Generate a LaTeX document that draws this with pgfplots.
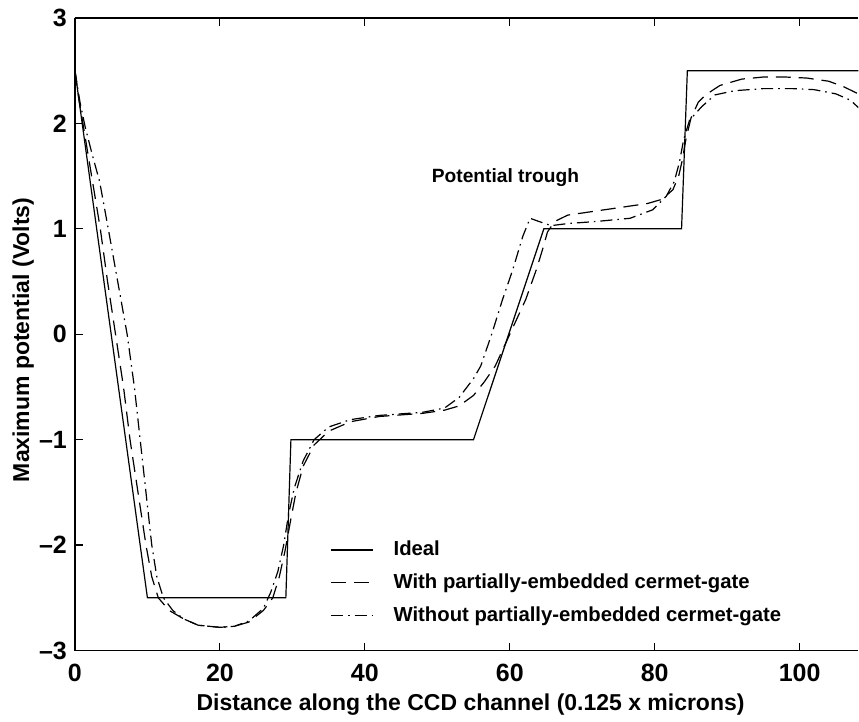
\documentclass[border=0pt]{standalone}
\usepackage{fontspec}
\setmainfont{Liberation Sans}
\usepackage{pgfplots}
\pgfplotsset{compat=1.18}
\begin{document}
\begin{tikzpicture}[font=\bfseries]
\begin{axis}[
    scale only axis,
    width=392pt, height=316.5pt,
    xmin=0, xmax=108.1, ymin=-3, ymax=3,
    axis x line*=box, axis y line*=left,
    xtick={0,20,40,60,80,100},
    ytick={-3,-2,-1,0,1,2,3},
    yticklabels={–3,–2,–1,0,1,2,3},
    xticklabel={\pgfmathprintnumber[assume math mode=true]{\tick}},
    tick label style={font=\fontsize{12.5}{14}\bfseries},
    xticklabel style={yshift=-3pt},
    yticklabel style={xshift=-0.5pt},
    major tick length=4pt,
    tick style={line width=0.6pt, black},
    axis line style={line width=0.6pt},
    xlabel={Distance along the CCD channel (0.125 x microns)},
    ylabel={Maximum potential (Volts)},
    label style={font=\fontsize{11.5}{13}\bfseries},
    xlabel style={at={(axis description cs:0.505,0)}, anchor=north, yshift=-18pt},
    ylabel style={at={(axis description cs:-0.066,0.491)}, anchor=center},
    legend style={at={(axis cs:35.2,-1.92)}, anchor=north west, draw=none, fill=none,
        font=\fontsize{10.15}{12}\bfseries, row sep=3.6pt, inner sep=0pt,
        /tikz/every odd column/.append style={column sep=8pt}},
    legend cell align=left,
    legend image code/.code={\draw[#1] (0pt,0pt) -- (21pt,0pt);},
    every axis plot/.append style={line width=0.6pt, black},
]
\addplot[solid] coordinates {
(0,2.5) (10,-2.5) (29.1,-2.5) (29.8,-1) (55,-1) (64.7,1) (83.7,1) (84.5,2.5) (108.1,2.5)
};
\addplot[dash pattern=on 7.5pt off 4pt] coordinates {
(0,2.5) (0.5,2.25) (1.1,2.0) (2.3,1.5) (3.5,1.0) (4.5,0.5) (5.6,0) (6.7,-0.5) (7.6,-1)
(8.7,-1.5) (9.8,-2) (10.6,-2.3) (11.5,-2.5) (13,-2.62) (15,-2.7) (17,-2.76) (20,-2.78)
(22,-2.77) (24,-2.73) (26,-2.62) (27.3,-2.5) (28.2,-2.3) (29,-2.05) (29.8,-1.75)
(30.5,-1.5) (31.5,-1.25) (33,-1.05) (35,-0.92) (38,-0.83) (42,-0.78) (48,-0.75)
(51,-0.72) (53,-0.68) (55,-0.58) (56.5,-0.45) (58,-0.3) (60,0) (62.2,0.33) (63.7,0.62)
(64.5,0.8) (65.2,0.97) (66.2,1.07) (68,1.13) (72,1.17) (76,1.21) (79,1.24) (81,1.28)
(82.5,1.37) (83.3,1.5) (83.8,1.65) (84.3,1.85) (85,2.05) (86,2.2) (87,2.27) (89,2.36)
(92,2.42) (95,2.44) (98,2.44) (101,2.43) (104,2.40) (106,2.35) (108.1,2.28)
};
\addplot[dash pattern=on 6pt off 2.5pt on 0.8pt off 2.5pt] coordinates {
(0,2.5) (0.7,2.2) (1.4,1.97) (2.4,1.7) (3.4,1.45) (4.6,1.0) (5.9,0.5) (7.2,0) (8.2,-0.5)
(9.0,-1) (9.8,-1.5) (10.6,-2) (11.3,-2.3) (12.2,-2.5) (13.5,-2.62) (15,-2.7) (17,-2.76)
(20,-2.78) (22,-2.77) (24,-2.72) (26,-2.6) (27,-2.45) (28,-2.25) (28.8,-2.0) (29.5,-1.7)
(30.3,-1.45) (31.5,-1.2) (33,-1.0) (35,-0.88) (38,-0.81) (42,-0.77) (48,-0.74) (51,-0.7)
(53,-0.6) (55,-0.42) (56,-0.3) (57.5,0) (59,0.33) (60.4,0.61) (61.8,0.93) (62.8,1.10)
(64,1.07) (65.7,1.03) (68,1.05) (72,1.07) (76.6,1.10) (79.7,1.18) (81.6,1.31) (82.7,1.45)
(83.4,1.63) (84,1.85) (84.8,2.03) (86.5,2.16) (88.3,2.27) (91,2.31) (95,2.33) (99,2.33)
(102,2.32) (105,2.28) (107,2.22) (108.1,2.15)
};
\legend{Ideal, With partially-embedded cermet-gate, Without partially-embedded cermet-gate}
\node[font=\fontsize{9.6}{11}\bfseries] at (axis cs:59.4,1.49) {Potential trough};
\end{axis}
\path ([shift={(-37.5pt,-32pt)}]current axis.south west) rectangle ([shift={(0pt,9pt)}]current axis.north east);
\end{tikzpicture}
\end{document}
